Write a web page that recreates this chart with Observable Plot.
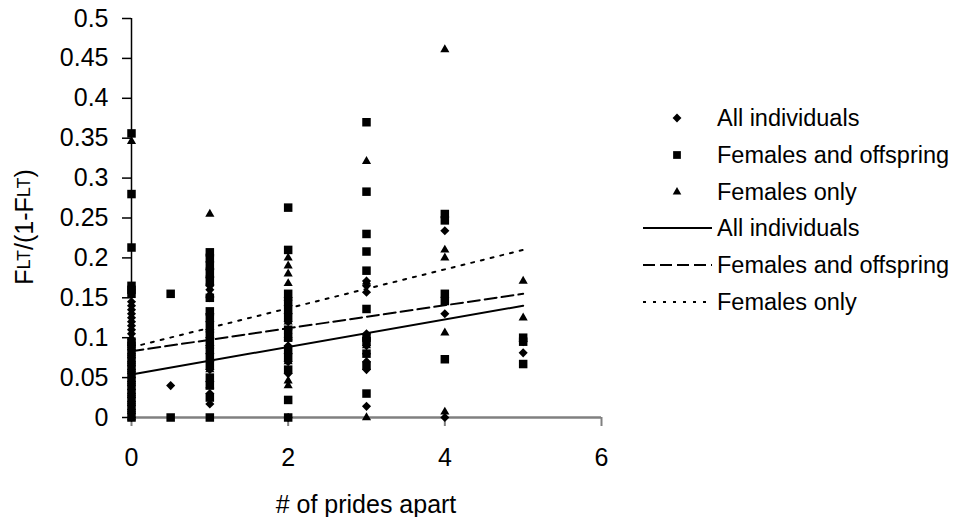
<!DOCTYPE html>
<html>
<head>
<meta charset="utf-8">
<script src="https://cdn.jsdelivr.net/npm/d3@7"></script>
<script src="https://cdn.jsdelivr.net/npm/@observablehq/plot@0.6"></script>
<style>
  html, body { margin: 0; padding: 0; background: #fff; }
  body { font-family: "Liberation Sans", Arial, sans-serif; }
  #chart { width: 955px; height: 517px; }
</style>
</head>
<body>
<div id="chart"></div>
<script>
// ---- tick labels ----
const xTicks = [0, 2, 4, 6];
const yTicks = [0, 0.05, 0.1, 0.15, 0.2, 0.25, 0.3, 0.35, 0.4, 0.45, 0.5];

// ---- series names ----
const seriesNames = ["All individuals", "Females and offspring", "Females only"];

// ---- All individuals (diamonds) ----
const allIndX = [
  0,0,0,0,0,0,0,0,0,0,0,0,0,0,0,0,0,0,0,0,0,0,0,0,0,0,0,0,
  0.5,
  1,1,1,1,1,1,1,1,1,1,1,1,1,1,1,1,1,
  2,2,2,2,2,2,2,2,2,2,2,
  3,3,3,3,3,3,3,3,3,3,
  4,4,4,
  5,5
];
const allIndY = [
  0,0.005,0.01,0.015,0.02,0.025,0.03,0.035,0.04,0.045,0.05,0.055,0.06,0.065,0.07,0.075,0.08,0.085,0.09,0.105,0.11,0.115,0.12,0.125,0.13,0.135,0.14,0.145,
  0.04,
  0.017,0.03,0.045,0.06,0.07,0.08,0.09,0.1,0.11,0.12,0.13,0.15,0.16,0.165,0.175,0.185,0.195,
  0,0.055,0.07,0.08,0.09,0.1,0.11,0.12,0.13,0.14,0.15,
  0.014,0.06,0.07,0.08,0.09,0.1,0.105,0.157,0.165,0.171,
  0,0.13,0.234,
  0.081,0.095
];

// ---- Females and offspring (squares) ----
const femOffX = [
  0,0,0,0,0,0,0,0,0,0,0,0,0,0,0,0,0,
  0.5,0.5,
  1,1,1,1,1,1,1,1,1,1,1,1,1,1,1,1,1,1,
  2,2,2,2,2,2,2,2,2,2,2,2,2,
  3,3,3,3,3,3,3,3,3,3,3,
  4,4,4,4,4,
  5,5,5
];
const femOffY = [
  0,0.01,0.02,0.03,0.04,0.05,0.06,0.07,0.08,0.09,0.095,0.155,0.16,0.165,0.213,0.28,0.356,
  0,0.155,
  0,0.025,0.04,0.05,0.065,0.075,0.085,0.095,0.105,0.115,0.125,0.133,0.15,0.17,0.18,0.19,0.2,0.207,
  0,0.022,0.06,0.075,0.085,0.1,0.11,0.125,0.135,0.145,0.155,0.21,0.263,
  0.03,0.065,0.08,0.095,0.1,0.136,0.184,0.208,0.23,0.283,0.37,
  0.073,0.146,0.155,0.247,0.255,
  0.067,0.095,0.1
];

// ---- Females only (triangles) ----
const femOnlyX = [
  0,0,0,0,0,0,0,0,0,0,0,
  1,1,1,1,1,1,1,1,1,
  2,2,2,2,2,2,2,2,2,2,
  3,3,3,3,3,
  4,4,4,4,4,
  5,5
];
const femOnlyY = [
  0,0.01,0.02,0.03,0.045,0.06,0.07,0.08,0.09,0.1,0.346,
  0.04,0.06,0.09,0.11,0.155,0.17,0.18,0.19,0.255,
  0.04,0.046,0.07,0.1,0.12,0.15,0.168,0.18,0.19,0.2,
  0,0.09,0.1,0.17,0.321,
  0.007,0.106,0.2,0.21,0.461,
  0.125,0.171
];

// ---- trend lines (end points) ----
const trendX = [0, 5];
const trendAllY = [0.054, 0.14];
const trendFemOffY = [0.083, 0.155];
const trendFemOnlyY = [0.088, 0.21];

// ---- build tables ----
const zip = (xs, ys) => xs.map((x, i) => ({x, y: ys[i]}));
const allInd = zip(allIndX, allIndY);
const femOff = zip(femOffX, femOffY);
const femOnly = zip(femOnlyX, femOnlyY);
const tAll = zip(trendX, trendAllY);
const tFemOff = zip(trendX, trendFemOffY);
const tFemOnly = zip(trendX, trendFemOnlyY);

const FONT = "Liberation Sans, Arial, sans-serif";
const fmt = d => String(+(+d).toFixed(2));

const plot = Plot.plot({
  width: 955,
  height: 517,
  marginLeft: 131,
  marginRight: 354,
  marginTop: 18,
  marginBottom: 100,
  style: {fontFamily: FONT, fontSize: "25px", color: "#000", background: "#fff", overflow: "visible"},
  x: {domain: [0, 6], label: null},
  y: {domain: [0, 0.5], label: null},
  marks: [
    Plot.axisX({ticks: xTicks, tickSize: 9, tickPadding: 22, tickFormat: fmt, stroke: "#808080", strokeWidth: 2, label: null, fill: "#000"}),
    Plot.axisY({ticks: yTicks, tickSize: 9, tickPadding: 14, tickFormat: fmt, stroke: "#000", strokeWidth: 1.5, label: null, fill: "#000"}),
    Plot.ruleY([0], {stroke: "#808080", strokeWidth: 2.5}),
    Plot.ruleX([0], {stroke: "#000", strokeWidth: 1.5}),
    Plot.line(tAll, {x: "x", y: "y", stroke: "#000", strokeWidth: 2}),
    Plot.line(tFemOff, {x: "x", y: "y", stroke: "#000", strokeWidth: 2, strokeDasharray: "12,5"}),
    Plot.line(tFemOnly, {x: "x", y: "y", stroke: "#000", strokeWidth: 2, strokeDasharray: "3,7"}),
    Plot.dot(allInd, {x: "x", y: "y", symbol: "diamond2", fill: "#000", stroke: "none", r: 4.1}),
    Plot.dot(femOff, {x: "x", y: "y", symbol: "square", fill: "#000", stroke: "none", r: 4.8}),
    Plot.dot(femOnly, {x: "x", y: "y", symbol: "triangle", fill: "#000", stroke: "none", r: 3.4})
  ]
});

document.getElementById("chart").appendChild(plot);

// ---- axis titles ----
const svg = d3.select(plot);
const yl = svg.append("text")
  .attr("transform", "translate(24,227) rotate(-90)")
  .attr("text-anchor", "middle")
  .attr("dominant-baseline", "central")
  .attr("fill", "#000")
  .style("font-family", FONT)
  .style("font-size", "25px");
yl.append("tspan").text("F");
yl.append("tspan").style("font-size", "18px").text("LT");
yl.append("tspan").text("/(1-F");
yl.append("tspan").style("font-size", "18px").text("LT");
yl.append("tspan").text(")");

svg.append("text")
  .attr("x", 366).attr("y", 504)
  .attr("text-anchor", "middle")
  .attr("dominant-baseline", "central")
  .attr("fill", "#000")
  .style("font-family", FONT)
  .style("font-size", "25px")
  .text("# of prides apart");

// ---- legend ----
const legendRowsY = [118, 155, 192, 228, 265, 302];
const lg = svg.append("g")
  .attr("text-anchor", "start")
  .style("font-family", FONT)
  .style("font-size", "23.5px");
const symTypes = [d3.symbolDiamond2, d3.symbolSquare, d3.symbolTriangle];
const symSizes = [50, 60, 32];
const dashes = [null, "12,5", "3,7"];
seriesNames.forEach((name, i) => {
  const yy = legendRowsY[i];
  lg.append("path")
    .attr("d", d3.symbol(symTypes[i], symSizes[i])())
    .attr("transform", `translate(677,${yy})`)
    .attr("fill", "#000");
  lg.append("text").attr("x", 717).attr("y", yy)
    .attr("text-anchor", "start")
    .attr("dominant-baseline", "central").attr("fill", "#000").text(name);
});
seriesNames.forEach((name, i) => {
  const yy = legendRowsY[i + 3];
  const ln = lg.append("line")
    .attr("x1", 643).attr("x2", 712).attr("y1", yy).attr("y2", yy)
    .attr("stroke", "#000").attr("stroke-width", 2);
  if (dashes[i]) ln.attr("stroke-dasharray", dashes[i]);
  lg.append("text").attr("x", 717).attr("y", yy)
    .attr("text-anchor", "start")
    .attr("dominant-baseline", "central").attr("fill", "#000").text(name);
});
</script>
</body>
</html>
